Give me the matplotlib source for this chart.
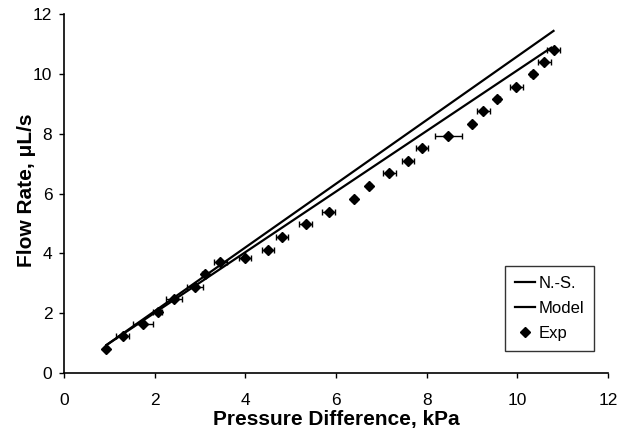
import matplotlib
matplotlib.use("Agg")
import matplotlib.pyplot as plt

# Experimental data (kPa, uL/s)
exp_x = [0.93, 1.29, 1.74, 2.07, 2.43, 2.89, 3.10, 3.45, 3.99, 4.50, 4.81, 5.33, 5.84,
         6.40, 6.73, 7.18, 7.59, 7.90, 8.48, 9.00, 9.25, 9.56, 9.98, 10.34, 10.60, 10.80]
exp_y = [0.80, 1.24, 1.64, 2.05, 2.47, 2.89, 3.31, 3.72, 3.86, 4.12, 4.55, 4.97, 5.38,
         5.81, 6.25, 6.68, 7.09, 7.53, 7.94, 8.34, 8.76, 9.16, 9.58, 9.99, 10.39, 10.80]
exp_xerr = [0.03, 0.14, 0.22, 0.10, 0.18, 0.18, 0.05, 0.15, 0.14, 0.14, 0.14, 0.14, 0.14,
            0.05, 0.05, 0.14, 0.14, 0.14, 0.30, 0.05, 0.14, 0.05, 0.14, 0.05, 0.15, 0.15]

# Theory lines
ns_x = [0.94, 10.80]
ns_y = [0.94, 11.44]
model_x = [0.94, 10.75]
model_y = [0.94, 10.88]

xticks = [0, 2, 4, 6, 8, 10, 12]
yticks = [0, 2, 4, 6, 8, 10, 12]

plt.rcParams['font.family'] = ['Liberation Sans', 'DejaVu Sans']

fig = plt.figure(figsize=(6.28, 4.29), dpi=100)
ax = fig.add_axes([0.102, 0.1305, 0.866, 0.8365])

ax.plot(ns_x, ns_y, color='black', lw=1.6, label='N.-S.')
ax.plot(model_x, model_y, color='black', lw=1.6, label='Model')
ax.errorbar(exp_x, exp_y, xerr=exp_xerr, fmt='none', ecolor='black',
            elinewidth=1.0, capsize=2.5, capthick=1.0)
ax.plot(exp_x, exp_y, 'D', color='black', ms=5.3, label='Exp')

ax.set_xlim(0, 12)
ax.set_ylim(0, 12)
ax.set_xticks(xticks)
ax.set_yticks(yticks)
ax.tick_params(labelsize=12.5, direction='out', length=3.5, width=1)
ax.tick_params(axis='x', pad=11)
ax.tick_params(axis='y', pad=5)
for s in ['top', 'right']:
    ax.spines[s].set_visible(False)
for s in ['left', 'bottom']:
    ax.spines[s].set_linewidth(1.2)

ax.set_xlabel('Pressure Difference, kPa', fontsize=15, fontweight='bold', labelpad=1)
ax.set_ylabel('Flow Rate, \u03bcL/s', fontsize=15, fontweight='bold')
ax.yaxis.set_label_coords(-0.052, 0.51)

leg = ax.legend(loc='lower right', bbox_to_anchor=(0.974, 0.061), borderaxespad=0,
                fontsize=12, frameon=True, fancybox=False, edgecolor='black',
                handlelength=1.2, handletextpad=0.2, labelspacing=0.6, borderpad=0.6,
                markerscale=1.0)
leg.get_frame().set_linewidth(1.0)

fig.savefig('out.png', dpi=100)
